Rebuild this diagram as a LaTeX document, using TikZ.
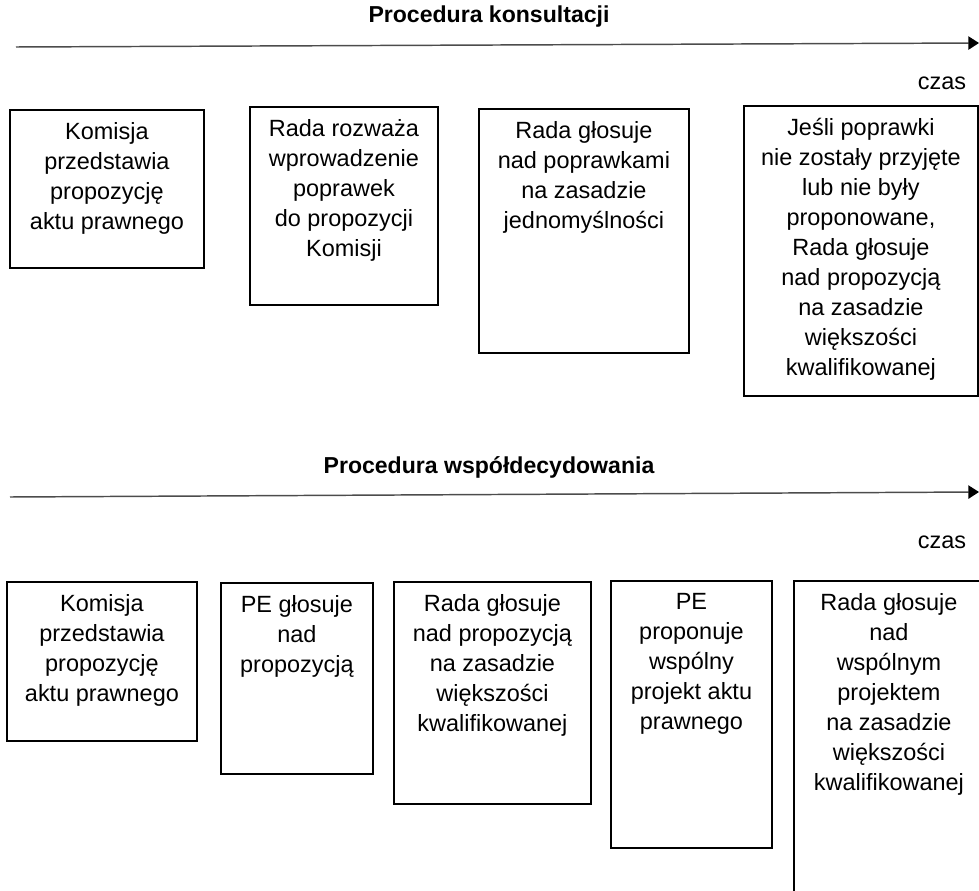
\documentclass[tikz,border=0pt]{standalone}
\usepackage{fontspec}
\setmainfont{Liberation Sans}
\usetikzlibrary{arrows.meta}

\tikzset{
  etap/.style={draw, line width=1.4pt, anchor=north west, inner sep=0pt,
    font=\fontsize{17.6}{22.5}\selectfont},
  os/.style={line width=1.1pt, draw=black!70,
    -{Triangle[length=8pt,width=10pt,color=black]}},
  tytul/.style={font=\bfseries\fontsize{17.3}{20}\selectfont},
  czas/.style={font=\fontsize{17.6}{22}\selectfont}
}
% tekst u gory ramki: szerokosc, wysokosc, tresc
\newcommand{\tresc}[3]{\parbox[c][#2][t]{#1}{\centering\vspace*{9.5pt}#3\par}}

\begin{document}
\begin{tikzpicture}[x=0.75pt,y=-0.75pt]
    \clip (0,0) rectangle (979,891);

    % Procedura konsultacji
    \node[tytul] (t1) at (489,17) {Procedura konsultacji};
    \coordinate (k1s) at (16,47);
    \coordinate (k1e) at (979,43);
    \draw[os] (k1s) -- (k1e);
    \node[czas] (c1) at (942,83) {czas};

    \node[etap] (a1) at (9,109) {\tresc{145.5pt}{118.5pt}{Komisja\\przedstawia\\propozycję\\aktu prawnego}};
    \node[etap] (a2) at (249,106) {\tresc{141pt}{148.5pt}{Rada rozważa\\wprowadzenie\\poprawek\\do propozycji\\Komisji}};
    \node[etap] (a3) at (478,108) {\tresc{157.5pt}{183pt}{Rada głosuje\\nad poprawkami\\na zasadzie\\jednomyślności}};
    \node[etap] (a4) at (743,105) {\tresc{175.5pt}{217.5pt}{Jeśli poprawki\\nie zostały przyjęte\\lub nie były\\proponowane,\\Rada głosuje\\nad propozycją\\na zasadzie\\większości\\kwalifikowanej}};

    % Procedura wspoldecydowania
    \node[tytul] (t2) at (489,467) {Procedura współdecydowania};
    \coordinate (k2s) at (10,497);
    \coordinate (k2e) at (979,492);
    \draw[os] (k2s) -- (k2e);
    \node[czas] (c2) at (942,542) {czas};

    \node[etap] (b1) at (6,581) {\tresc{142.5pt}{119.25pt}{Komisja\\przedstawia\\propozycję\\aktu prawnego}};
    \node[etap] (b2) at (220,582) {\tresc{114pt}{143.25pt}{PE głosuje\\nad\\propozycją}};
    \node[etap] (b3) at (393,581) {\tresc{147.75pt}{166.5pt}{Rada głosuje\\nad propozycją\\na zasadzie\\większości\\kwalifikowanej}};
    \node[etap] (b4) at (610,580) {\tresc{120.75pt}{200.25pt}{PE\\proponuje\\wspólny\\projekt aktu\\prawnego}};
    \node[etap] (b5) at (793,580) {\tresc{142.5pt}{240pt}{Rada głosuje\\nad\\wspólnym\\projektem\\na zasadzie\\większości\\kwalifikowanej}};

\end{tikzpicture}
\end{document}
